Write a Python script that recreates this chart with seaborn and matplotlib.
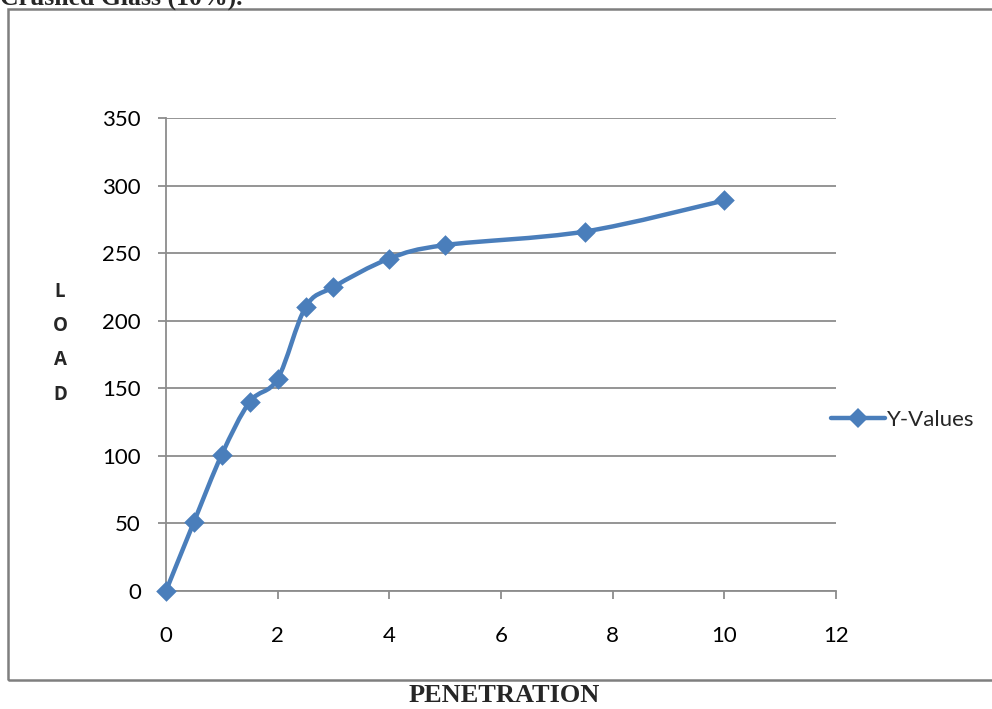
import numpy as np
import pandas as pd
import matplotlib
matplotlib.use("Agg")
import matplotlib.pyplot as plt
from matplotlib.path import Path
from matplotlib.patches import PathPatch, Rectangle
from matplotlib.lines import Line2D
import seaborn as sns

penetration = [0, 0.5, 1, 1.5, 2, 2.5, 3, 4, 5, 7.5, 10]
load = [0, 51, 101, 140, 157, 210, 225, 246, 256, 266, 289]
x_ticks = [0, 2, 4, 6, 8, 10, 12]
y_ticks = [0, 50, 100, 150, 200, 250, 300, 350]
series_name = "Y-Values"
x_label = "PENETRATION"
y_label = "L\nO\nA\nD"
title_text = "Crushed Glass (10%)."

COLOR = "#4a7ebb"
GRID = "#8c8c8c"

sns.set_theme(style="white")
plt.rcParams["font.family"] = ["Lato", "DejaVu Sans"]

df = pd.DataFrame({"x": penetration, "y": load})

fig = plt.figure(figsize=(9.92, 7.09), dpi=100)
ax = fig.add_axes([0.1673, 0.1664, 0.6754, 0.6671])

# smoothed line (Catmull-Rom style Bezier through the data points)
xs = np.array(penetration, dtype=float)
ys = np.array(load, dtype=float)
verts = [(xs[0], ys[0])]
codes = [Path.MOVETO]
t = 1.0 / 6.0
n = len(xs)
for i in range(n - 1):
    p0 = (xs[max(i - 1, 0)], ys[max(i - 1, 0)])
    p1 = (xs[i], ys[i])
    p2 = (xs[i + 1], ys[i + 1])
    p3 = (xs[min(i + 2, n - 1)], ys[min(i + 2, n - 1)])
    c1 = (p1[0] + (p2[0] - p0[0]) * t, p1[1] + (p2[1] - p0[1]) * t)
    c2 = (p2[0] - (p3[0] - p1[0]) * t, p2[1] - (p3[1] - p1[1]) * t)
    verts += [c1, c2, p2]
    codes += [Path.CURVE4] * 3
ax.add_patch(PathPatch(Path(verts, codes), facecolor="none", edgecolor=COLOR,
                       lw=3.2, capstyle="round", joinstyle="round", zorder=3))

sns.scatterplot(data=df, x="x", y="y", ax=ax, marker="D", s=110, color=COLOR,
                edgecolor=COLOR, linewidth=0, zorder=4, legend=False)

ax.set_xlim(0, 12)
ax.set_ylim(0, 350)
ax.set_xticks(x_ticks)
ax.set_yticks(y_ticks)
ax.set_xticklabels([str(v) for v in x_ticks], fontsize=16)
ax.set_yticklabels([str(v) for v in y_ticks], fontsize=16)
ax.set_xlabel("")
ax.set_ylabel("")
ax.grid(axis="y", color=GRID, lw=1.3)
ax.set_axisbelow(True)
for s in ["top", "right"]:
    ax.spines[s].set_visible(False)
for s in ["left", "bottom"]:
    ax.spines[s].set_color(GRID)
    ax.spines[s].set_linewidth(1.3)
ax.tick_params(axis="x", which="major", direction="out", length=6, width=1.3,
               color=GRID, pad=19, bottom=True, labelcolor="black")
ax.tick_params(axis="y", which="major", direction="out", length=6, width=1.3,
               color=GRID, pad=12, left=True, labelcolor="black")
for lbl in ax.get_xticklabels() + ax.get_yticklabels():
    lbl.set_clip_on(False)
ax.collections[0].set_clip_on(False)

# legend
handle = Line2D([], [], color=COLOR, lw=3.2, marker="D", markersize=10,
                markeredgewidth=0)
fig.legend([handle], [series_name], loc="center left",
           bbox_to_anchor=(0.818, 0.408), frameon=False, fontsize=16,
           handlelength=2.4, handletextpad=0.1)

# y label (stacked letters)
fig.text(0.0605, 0.516, y_label, ha="center", va="center", fontsize=13.5,
         fontweight="bold", linespacing=1.95, family=["Open Sans", "DejaVu Sans"])

# x label
fig.text(0.508, 0.019, x_label, ha="center", va="center", fontsize=19,
         fontweight="bold", family=["Liberation Serif", "DejaVu Serif"])

# chart border
fig.patches.append(Rectangle((8 / 992, 1 - 680 / 709), 990 / 992, (680 - 9) / 709,
                             transform=fig.transFigure, fill=False,
                             edgecolor="#7f7f7f", lw=1.8))

# cut-off caption at the top
fig.text(0.0, 1 - 5 / 709, title_text, ha="left", va="baseline", fontsize=18.5,
         fontweight="bold", family=["Liberation Serif", "DejaVu Serif"])

fig.savefig("out.png", dpi=100)
